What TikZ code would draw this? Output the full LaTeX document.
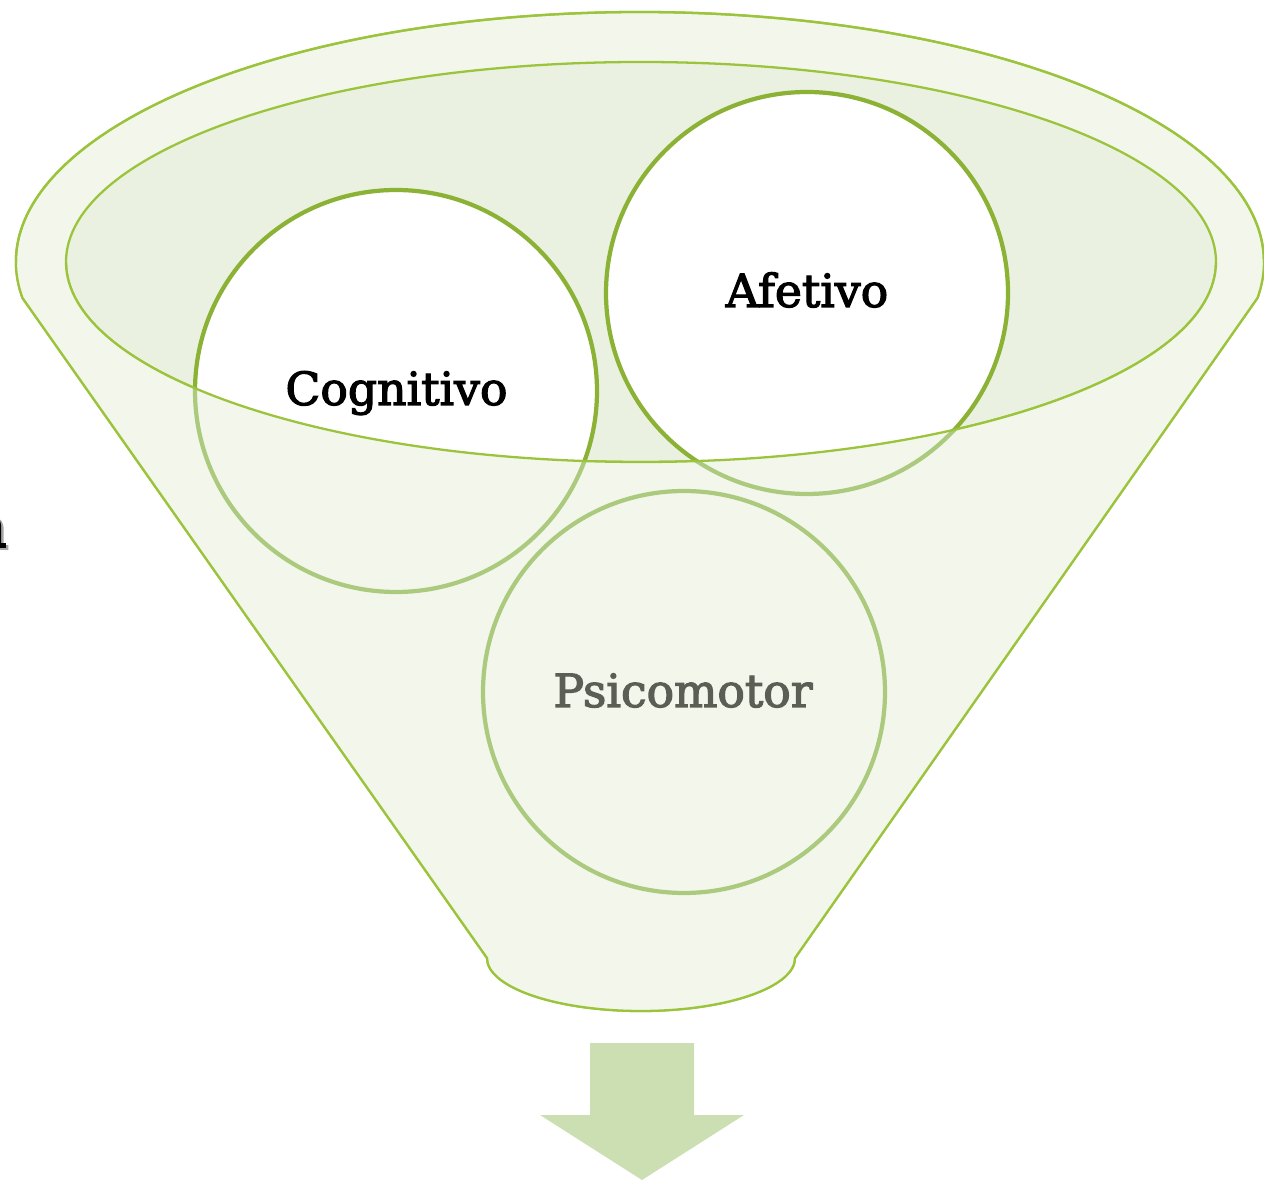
\documentclass[tikz,border=0pt]{standalone}
\usepackage{fontspec}
\setmainfont{DejaVu Serif}
\newfontfamily\labelfont{DejaVu Serif}[FakeBold=2.6]
\definecolor{lineg}{RGB}{155,196,60}
\definecolor{outerf}{RGB}{242,246,235}
\definecolor{innerf}{RGB}{234,241,225}
\definecolor{darkc}{RGB}{139,177,53}
\definecolor{lightc}{RGB}{171,202,125}
\definecolor{arrowf}{RGB}{204,223,178}
\definecolor{psitext}{RGB}{91,94,85}
\tikzset{
  funnelline/.style={draw=lineg, line width=1.3pt},
  topcircle/.style={draw=darkc, line width=2.4pt, fill=white},
  lowcircle/.style={draw=lightc, line width=2.4pt},
  label/.style={font=\labelfont\fontsize{26}{31}\selectfont, inner sep=0pt, anchor=base},
}
\begin{document}
\begin{tikzpicture}[x=0.02cm, y=0.02cm]
\useasboundingbox (0,0) rectangle (1264,1180);
% clipped text at the left edge
\node[font=\labelfont\fontsize{33}{38}\selectfont, inner sep=0pt, anchor=base east, text=black!35] (ghost) at (9.5,631) {n};
\node[font=\labelfont\fontsize{33}{38}\selectfont, inner sep=0pt, anchor=base east, text=black] (cut) at (7,633) {n};
% outer funnel
\path[funnelline, fill=outerf] (22.5,882)
  arc[start angle=188.28, end angle=-8.28, x radius=624, y radius=250]
  -- (795,222)
  arc[start angle=0, end angle=-180, x radius=154, y radius=53]
  -- cycle;
% inner ellipse
\path[funnelline, fill=innerf] (641,918) ellipse[x radius=575, y radius=200];
% circles
\path[topcircle] (396,789) circle[radius=201];
\path[topcircle] (807,887) circle[radius=201];
% front of the funnel
\begin{scope}
  \clip (66,918) arc[start angle=180, end angle=360, x radius=575, y radius=200]
    -- (1264,918) -- (1264,0) -- (0,0) -- (0,918) -- cycle;
  \fill[outerf] (22.5,882)
    arc[start angle=188.28, end angle=-8.28, x radius=624, y radius=250]
    -- (795,222)
    arc[start angle=0, end angle=-180, x radius=154, y radius=53]
    -- cycle;
  \path[lowcircle] (396,789) circle[radius=201];
  \path[lowcircle] (807,887) circle[radius=201];
\end{scope}
\path[lowcircle, fill=outerf] (684,488) circle[radius=201];
\draw[draw=lineg, line width=1.3pt] (66,918)
  arc[start angle=180, end angle=360, x radius=575, y radius=200];
\draw[funnelline] (22.5,882)
  arc[start angle=188.28, end angle=-8.28, x radius=624, y radius=250]
  -- (795,222)
  arc[start angle=0, end angle=-180, x radius=154, y radius=53]
  -- cycle;
% labels
\node[label] (cog) at (396.5,775) {Cognitivo};
\node[label] (afe) at (807,873) {Afetivo};
\node[label, text=psitext] (psi) at (683,473) {Psicomotor};
% arrow
\fill[arrowf] (590,137) -- (694,137) -- (694,65) -- (744,65) -- (642,0)
  -- (540,65) -- (590,65) -- cycle;
\end{tikzpicture}
\end{document}
